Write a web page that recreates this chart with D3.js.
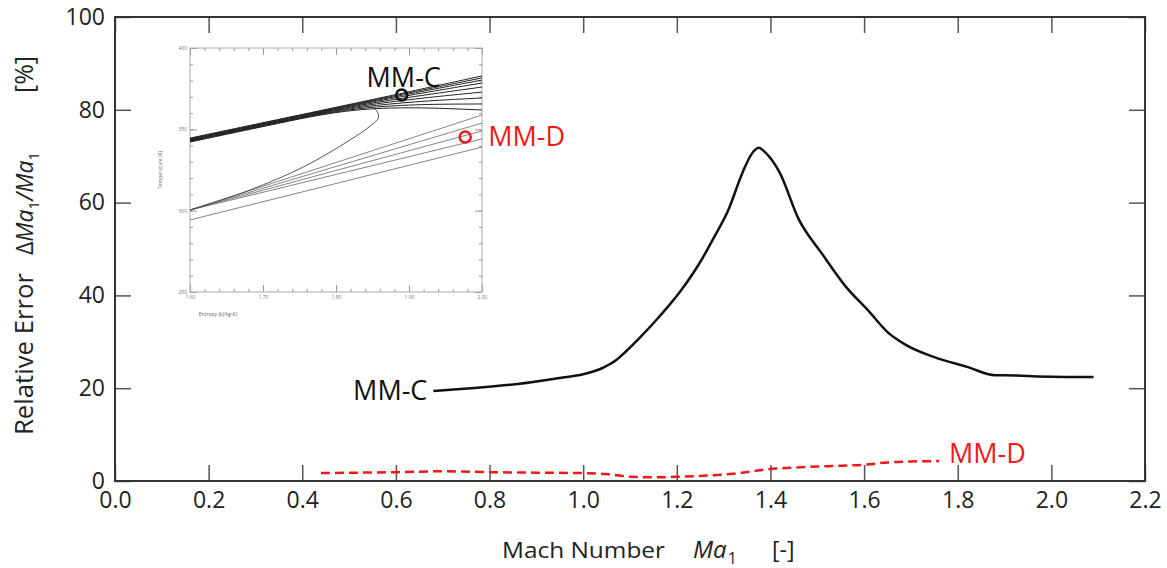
<!DOCTYPE html>
<html>
<head>
<meta charset="utf-8">
<script src="https://cdn.jsdelivr.net/npm/d3@7"></script>
<style>
  body { margin: 0; background: #fff; }
  text { font-family: "Open Sans", "Liberation Sans", sans-serif; }
</style>
</head>
<body>
<script>
//main chart data (Mach number vs relative error, %)
var mmcX = [0.68, 0.76, 0.86, 0.95, 1.00, 1.04, 1.07, 1.09, 1.12, 1.15, 1.21, 1.25, 1.28, 1.31, 1.34, 1.36, 1.375, 1.39, 1.42, 1.46, 1.51, 1.56, 1.61, 1.65, 1.69, 1.75, 1.82, 1.88, 1.90, 1.96, 2.09];
var mmcY = [19.4, 20.0, 20.9, 22.2, 23.0, 24.3, 26.0, 27.8, 30.8, 34.0, 41.2, 47.2, 52.6, 58.4, 66.4, 70.5, 71.8, 70.7, 66.4, 56.5, 49.0, 42.0, 36.6, 32.1, 29.3, 26.7, 24.6, 22.8, 22.8, 22.6, 22.4];
var mmdX = [0.44, 0.52, 0.60, 0.70, 0.80, 0.90, 1.00, 1.05, 1.10, 1.15, 1.20, 1.25, 1.30, 1.34, 1.39, 1.45, 1.50, 1.55, 1.60, 1.65, 1.70, 1.76];
var mmdY = [1.7, 1.8, 1.9, 2.1, 1.9, 1.8, 1.7, 1.5, 0.9, 0.8, 0.9, 1.1, 1.4, 1.8, 2.5, 2.9, 3.1, 3.3, 3.5, 4.0, 4.2, 4.3];
var xTicks = [0, 0.2, 0.4, 0.6, 0.8, 1.0, 1.2, 1.4, 1.6, 1.8, 2.0, 2.2];
var yTicks = [0, 20, 40, 60, 80, 100];

//inset T-s diagram data: each line is a list of [entropy, temperature]
var insetBand = [
    [[1.6, 344.6], [1.72, 356.0], [1.84, 367.3], [2.0, 382.8]],
    [[1.6, 344.3], [1.72, 355.7], [1.84, 367.0], [2.0, 381.6]],
    [[1.6, 344.0], [1.72, 355.4], [1.84, 366.7], [2.0, 380.3]],
    [[1.6, 343.7], [1.72, 355.1], [1.84, 366.4], [2.0, 378.5]],
    [[1.6, 343.4], [1.72, 354.8], [1.84, 366.1], [2.0, 376.0]],
    [[1.6, 343.1], [1.72, 354.5], [1.84, 365.8], [2.0, 372.9]],
    [[1.6, 342.8], [1.72, 354.2], [1.84, 365.5], [2.0, 369.3]],
    [[1.6, 342.5], [1.72, 353.9], [1.84, 365.2], [2.0, 365.6]],
    [[1.6, 342.2], [1.72, 353.6], [1.84, 364.9], [2.0, 361.9]]
];
var insetFan = [
    [[1.6, 300.4], [2.0, 358.8]],
    [[1.6, 300.4], [2.0, 353.9]],
    [[1.6, 300.4], [2.0, 349.0]],
    [[1.6, 300.4], [2.0, 344.1]],
    [[1.6, 294.3], [2.0, 339.1]]
];
var insetDome = [[1.6, 300.4], [1.682, 312.7], [1.755, 326.8], [1.819, 343.4], [1.847, 352.1], [1.858, 357.0], [1.855, 361.9], [1.840, 364.3]];
var insetPoints = [
    {name: "MM-C", s: 1.890, t: 371.1, color: "#111"},
    {name: "MM-D", s: 1.977, t: 345.3, color: "#f01818"}
];
var insetSTicks = [1.6, 1.7, 1.8, 1.9, 2.0];
var insetTTicks = [250, 300, 350, 400];

var width = 1167, height = 568;

var svg = d3.select("body").append("svg")
    .attr("width", width)
    .attr("height", height);

var x = d3.scaleLinear().domain([0, 2.2]).range([115, 1145]);
var y = d3.scaleLinear().domain([0, 100]).range([481, 17]);

//axes with inward ticks on all four sides
function styleAxis(g){
    g.select(".domain").remove();
    g.selectAll(".tick line").attr("stroke", "#555").attr("stroke-width", 1.5);
    g.selectAll(".tick text").attr("fill", "#222").style("font-size", "23px");
}

svg.append("g")
    .attr("transform", "translate(0,481)")
    .call(d3.axisBottom(x).tickValues(xTicks).tickFormat(d3.format(".1f"))
        .tickSizeInner(-16).tickSizeOuter(0).tickPadding(11))
    .call(styleAxis);

svg.append("g")
    .attr("transform", "translate(0,17)")
    .call(d3.axisTop(x).tickValues(xTicks).tickFormat("")
        .tickSizeInner(-16).tickSizeOuter(0))
    .call(styleAxis);

svg.append("g")
    .attr("transform", "translate(115,0)")
    .call(d3.axisLeft(y).tickValues(yTicks).tickFormat(d3.format("d"))
        .tickSizeInner(-16).tickSizeOuter(0).tickPadding(10))
    .call(styleAxis);

svg.append("g")
    .attr("transform", "translate(1145,0)")
    .call(d3.axisRight(y).tickValues(yTicks).tickFormat("")
        .tickSizeInner(-16).tickSizeOuter(0))
    .call(styleAxis);

//plot frame
svg.append("rect")
    .attr("x", 115).attr("y", 17)
    .attr("width", 1030).attr("height", 464)
    .attr("fill", "none")
    .attr("stroke", "#333")
    .attr("stroke-width", 2);

//curves
var line = d3.line()
    .x(function(d){ return x(d[0]); })
    .y(function(d){ return y(d[1]); })
    .curve(d3.curveMonotoneX);

svg.append("path")
    .datum(d3.zip(mmcX, mmcY))
    .attr("d", line)
    .attr("fill", "none")
    .attr("stroke", "#111")
    .attr("stroke-width", 2.5);

svg.append("path")
    .datum(d3.zip(mmdX, mmdY))
    .attr("d", line)
    .attr("fill", "none")
    .attr("stroke", "#f01818")
    .attr("stroke-width", 2.5)
    .attr("stroke-dasharray", "9,5");

//curve labels
svg.append("text")
    .attr("x", x(mmcX[0]) - 6)
    .attr("y", y(mmcY[0]) + 9)
    .attr("text-anchor", "end")
    .attr("fill", "#111")
    .style("font-size", "27px")
    .text("MM-C");

svg.append("text")
    .attr("x", x(mmdX[mmdX.length - 1]) + 10)
    .attr("y", y(mmdY[mmdY.length - 1]) + 2)
    .attr("fill", "#f01818")
    .style("font-size", "27px")
    .text("MM-D");

//x axis title
svg.append("text")
    .attr("x", 502).attr("y", 558)
    .attr("fill", "#222")
    .attr("textLength", 163)
    .attr("lengthAdjust", "spacingAndGlyphs")
    .style("font-size", "22px")
    .text("Mach Number");
var xm = svg.append("text")
    .attr("x", 693).attr("y", 558)
    .attr("fill", "#222")
    .style("font-size", "24px");
xm.append("tspan").style("font-style", "italic").text("Ma");
xm.append("tspan").attr("dy", 6).attr("dx", 1).style("font-size", "16px").text("1");
svg.append("text")
    .attr("x", 772).attr("y", 558)
    .attr("fill", "#222")
    .style("font-size", "23px")
    .text("[-]");

//y axis title, rotated
var yg = svg.append("g").attr("transform", "translate(33,0) rotate(-90)");
yg.append("text")
    .attr("x", -435).attr("y", 0)
    .attr("fill", "#222")
    .attr("textLength", 162)
    .attr("lengthAdjust", "spacingAndGlyphs")
    .style("font-size", "25px")
    .text("Relative Error");
var ym = yg.append("text")
    .attr("x", -255).attr("y", 0)
    .attr("fill", "#222")
    .style("font-size", "23px");
ym.append("tspan").text("\u0394");
ym.append("tspan").style("font-style", "italic").text("Ma");
ym.append("tspan").attr("dy", 6).style("font-size", "15px").text("1");
ym.append("tspan").attr("dy", -6).style("font-style", "italic").text("/Ma");
ym.append("tspan").attr("dy", 6).style("font-size", "15px").text("1");
yg.append("text")
    .attr("x", -93).attr("y", 0)
    .attr("fill", "#222")
    .style("font-size", "25px")
    .text("[%]");

//inset T-s diagram
var sx = d3.scaleLinear().domain([1.6, 2.0]).range([190, 482]);
var sy = d3.scaleLinear().domain([250, 400]).range([292, 48]);
var inset = svg.append("g").attr("class", "inset");

inset.append("rect")
    .attr("x", 150).attr("y", 40)
    .attr("width", 340).attr("height", 282)
    .attr("fill", "#fff");

function styleInsetAxis(g){
    g.select(".domain").remove();
    g.selectAll(".tick line").attr("stroke", "#999").attr("stroke-width", 1);
    g.selectAll(".tick text").attr("fill", "#777").style("font-size", "5px");
}
var sMinor = d3.range(1.6, 2.001, 0.02);
var tMinor = d3.range(250, 400.1, 10);

[[d3.axisBottom, 292], [d3.axisTop, 48]].forEach(function(a, i){
    inset.append("g").attr("transform", "translate(0," + a[1] + ")")
        .call(a[0](sx).tickValues(sMinor).tickFormat("").tickSizeInner(-3).tickSizeOuter(0))
        .call(styleInsetAxis);
    inset.append("g").attr("transform", "translate(0," + a[1] + ")")
        .call(a[0](sx).tickValues(insetSTicks).tickFormat(i == 0 ? d3.format(".2f") : "")
            .tickSizeInner(-7).tickSizeOuter(0).tickPadding(3))
        .call(styleInsetAxis);
});
[[d3.axisLeft, 190], [d3.axisRight, 482]].forEach(function(a, i){
    inset.append("g").attr("transform", "translate(" + a[1] + ",0)")
        .call(a[0](sy).tickValues(tMinor).tickFormat("").tickSizeInner(-3).tickSizeOuter(0))
        .call(styleInsetAxis);
    inset.append("g").attr("transform", "translate(" + a[1] + ",0)")
        .call(a[0](sy).tickValues(insetTTicks).tickFormat(i == 0 ? d3.format("d") : "")
            .tickSizeInner(-7).tickSizeOuter(0).tickPadding(3))
        .call(styleInsetAxis);
});

inset.append("rect")
    .attr("x", 190).attr("y", 48)
    .attr("width", 292).attr("height", 244)
    .attr("fill", "none")
    .attr("stroke", "#aaa")
    .attr("stroke-width", 1);

inset.append("text")
    .attr("transform", "translate(162,170) rotate(-90)")
    .attr("text-anchor", "middle")
    .attr("fill", "#666")
    .style("font-size", "5px")
    .text("Temperature (K)");

inset.append("text")
    .attr("x", 218).attr("y", 316)
    .attr("text-anchor", "middle")
    .attr("fill", "#666")
    .style("font-size", "5px")
    .text("Entropy (kJ/kg-K)");

var insetLine = d3.line()
    .x(function(d){ return sx(d[0]); })
    .y(function(d){ return sy(d[1]); });

inset.selectAll(".band")
    .data(insetBand)
    .enter()
    .append("path")
    .attr("class", "band")
    .attr("d", insetLine.curve(d3.curveBasis))
    .attr("fill", "none")
    .attr("stroke", "#222")
    .attr("stroke-width", 1);

inset.selectAll(".fan")
    .data(insetFan)
    .enter()
    .append("path")
    .attr("class", "fan")
    .attr("d", insetLine.curve(d3.curveLinear))
    .attr("fill", "none")
    .attr("stroke", "#666")
    .attr("stroke-width", 0.8);

inset.append("path")
    .datum(insetDome)
    .attr("d", insetLine.curve(d3.curveCatmullRom))
    .attr("fill", "none")
    .attr("stroke", "#444")
    .attr("stroke-width", 0.9);

//state points
inset.selectAll(".pt")
    .data(insetPoints)
    .enter()
    .append("circle")
    .attr("class", "pt")
    .attr("cx", function(d){ return sx(d.s); })
    .attr("cy", function(d){ return sy(d.t); })
    .attr("r", 5.5)
    .attr("fill", "none")
    .attr("stroke", function(d){ return d.color; })
    .attr("stroke-width", 2.5);

inset.append("text")
    .attr("x", sx(insetPoints[0].s) + 2)
    .attr("y", sy(insetPoints[0].t) - 8)
    .attr("text-anchor", "middle")
    .attr("fill", "#111")
    .style("font-size", "27px")
    .text("MM-C");

inset.append("text")
    .attr("x", sx(insetPoints[1].s) + 23)
    .attr("y", sy(insetPoints[1].t) + 9)
    .attr("fill", "#f01818")
    .style("font-size", "27px")
    .text("MM-D");
</script>
</body>
</html>
